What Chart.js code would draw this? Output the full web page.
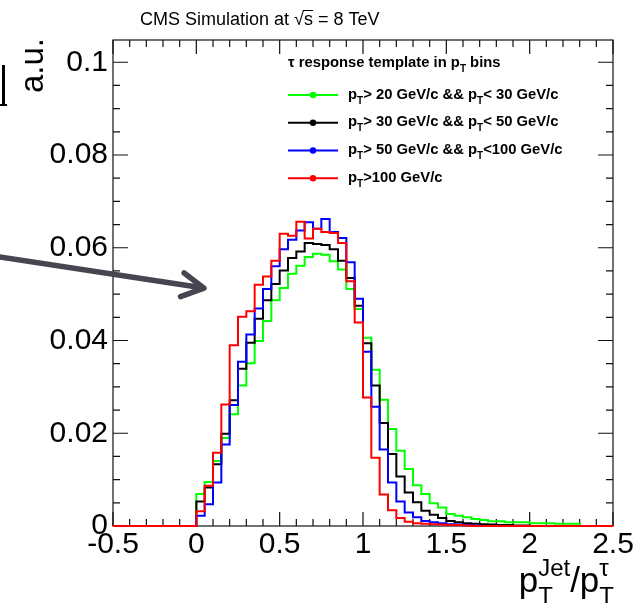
<!DOCTYPE html>
<html>
<head>
<meta charset="utf-8">
<script src="https://cdn.jsdelivr.net/npm/chart.js@4.4.1/dist/chart.umd.min.js"></script>
<style>
html, body { margin: 0; padding: 0; background: #fff; }
canvas { display: block; }
</style>
</head>
<body>
<canvas id="tauResponse" width="637" height="603"></canvas>
<script>
// histogram binning: 60 bins of 0.05 from -0.5 to 2.5
const histMin = -0.5;
const binWidth = 0.05;

const seriesLabels = [
	"p_{T}> 20 GeV/c && p_{T}< 30 GeV/c",
	"p_{T}> 30 GeV/c && p_{T}< 50 GeV/c",
	"p_{T}> 50 GeV/c && p_{T}<100 GeV/c",
	"p_{T}>100 GeV/c"
];
const seriesColors = ["#00ff00", "#000000", "#0000ff", "#ff0000"];

const pt20to30 = [
	0, 0, 0, 0, 0, 0, 0, 0, 0, 0,
	0.0069, 0.0095, 0.0140, 0.0190, 0.0241, 0.0303, 0.0351, 0.0399, 0.0442, 0.0487,
	0.0513, 0.0544, 0.0561, 0.0580, 0.0587, 0.0585, 0.0571, 0.0553, 0.0511, 0.0468,
	0.0406, 0.0337, 0.0272, 0.0209, 0.0162, 0.0123, 0.0088, 0.0069, 0.0049, 0.0040,
	0.0026, 0.0022, 0.0019, 0.0015, 0.0013, 0.0010, 0.0010, 0.0008, 0.0008, 0.0008,
	0.0006, 0.0006, 0.0006, 0.0005, 0.0005, 0.0005, 0, 0, 0, 0
];
const pt30to50 = [
	0, 0, 0, 0, 0, 0, 0, 0, 0, 0,
	0.0053, 0.0083, 0.0133, 0.0199, 0.0271, 0.0339, 0.0395, 0.0447, 0.0487, 0.0522,
	0.0551, 0.0578, 0.0592, 0.0610, 0.0608, 0.0606, 0.0597, 0.0572, 0.0535, 0.0475,
	0.0394, 0.0303, 0.0222, 0.0155, 0.0107, 0.0072, 0.0051, 0.0033, 0.0024, 0.0017,
	0.0011, 0.0008, 0.0006, 0.0005, 0.0004, 0.0003, 0.0002, 0.0002, 0.0001, 0.0001,
	0, 0, 0, 0, 0, 0, 0, 0, 0, 0
];
const pt50to100 = [
	0, 0, 0, 0, 0, 0, 0, 0, 0, 0,
	0.0022, 0.0047, 0.0094, 0.0176, 0.0261, 0.0354, 0.0413, 0.0469, 0.0511, 0.0560,
	0.0597, 0.0617, 0.0637, 0.0655, 0.0641, 0.0662, 0.0634, 0.0621, 0.0569, 0.0490,
	0.0376, 0.0257, 0.0165, 0.0094, 0.0053, 0.0029, 0.0019, 0.0011, 0.0008, 0.0006,
	0.0004, 0.0003, 0.0002, 0.0001, 0, 0, 0, 0, 0, 0,
	0, 0, 0, 0, 0, 0, 0, 0, 0, 0
];
const ptAbove100 = [
	0, 0, 0, 0, 0, 0, 0, 0, 0, 0,
	0.0032, 0.0087, 0.0158, 0.0262, 0.0390, 0.0451, 0.0463, 0.0520, 0.0538, 0.0572,
	0.0630, 0.0626, 0.0656, 0.0620, 0.0641, 0.0634, 0.0632, 0.0610, 0.0528, 0.0439,
	0.0277, 0.0147, 0.0068, 0.0034, 0.0017, 0.0009, 0.0006, 0.0005, 0.0004, 0.0003,
	0.0002, 0.0002, 0.0001, 0, 0, 0, 0, 0, 0, 0,
	0, 0, 0, 0, 0, 0, 0, 0, 0, 0
];

const xTickValues = [-0.5, 0, 0.5, 1, 1.5, 2, 2.5];
const xTickLabels = ["-0.5", "0", "0.5", "1", "1.5", "2", "2.5"];
const yTickValues = [0, 0.02, 0.04, 0.06, 0.08, 0.1];
const yTickLabels = ["0", "0.02", "0.04", "0.06", "0.08", "0.1"];

const FONT = '"Liberation Sans", Arial, Helvetica, sans-serif';

// turn bin contents into step points (lower edges + closing point)
function histPoints(values) {
	const pts = values.map((v, i) => ({ x: histMin + i * binWidth, y: v }));
	pts.push({ x: histMin + values.length * binWidth, y: values[values.length - 1] });
	return pts;
}

const allSeries = [pt20to30, pt30to50, pt50to100, ptAbove100];
const datasets = allSeries.map((vals, i) => ({
	label: seriesLabels[i],
	data: histPoints(vals),
	borderColor: seriesColors[i],
	backgroundColor: seriesColors[i],
	borderWidth: 2,
	pointRadius: 0,
	stepped: 'before',
	fill: false,
	clip: 3,
	order: allSeries.length - 1 - i
}));

// simple _{..} / ^{..} text drawing, like ROOT latex
function parseRich(s) {
	const out = [];
	const re = /_\{([^}]*)\}|\^\{([^}]*)\}|([^_^]+)/g;
	let m;
	while ((m = re.exec(s))) {
		if (m[3] !== undefined) { out.push({ t: m[3] }); continue; }
		const key = m[1] !== undefined ? 'sub' : 'sup';
		const val = m[1] !== undefined ? m[1] : m[2];
		const last = out[out.length - 1];
		if (last && last.t === undefined && last[key] === undefined) last[key] = val;
		else out.push({ [key]: val });
	}
	return out;
}

function drawRich(ctx, s, x, y, size, weight, align, subScale) {
	const parts = parseRich(s);
	const big = weight + ' ' + size + 'px ' + FONT;
	const small = weight + ' ' + Math.round(size * (subScale || 0.7)) + 'px ' + FONT;
	const widths = parts.map(p => {
		if (p.t !== undefined) { ctx.font = big; return ctx.measureText(p.t).width; }
		ctx.font = small;
		return Math.max(p.sub ? ctx.measureText(p.sub).width : 0, p.sup ? ctx.measureText(p.sup).width : 0);
	});
	const total = widths.reduce((a, b) => a + b, 0);
	let cx = align === 'right' ? x - total : x;
	ctx.textAlign = 'left';
	ctx.textBaseline = 'alphabetic';
	parts.forEach((p, i) => {
		if (p.t !== undefined) {
			ctx.font = big;
			ctx.fillText(p.t, cx, y);
		} else {
			ctx.font = small;
			if (p.sub) ctx.fillText(p.sub, cx, y + size * 0.34);
			if (p.sup) ctx.fillText(p.sup, cx, y - size * 0.46);
		}
		cx += widths[i];
	});
}

const rootStyle = {
	id: 'rootStyle',
	beforeDraw(chart) {
		const ctx = chart.ctx;
		ctx.save();
		ctx.fillStyle = '#fff';
		ctx.fillRect(0, 0, chart.width, chart.height);
		ctx.restore();
	},
	// frame + inward ticks on all four sides, under the histograms
	beforeDatasetsDraw(chart) {
		const { ctx, chartArea: a } = chart;
		const x = chart.scales.x, y = chart.scales.y;
		ctx.save();
		ctx.strokeStyle = '#111';
		ctx.lineWidth = 1.2;
		ctx.strokeRect(a.left, a.top, a.right - a.left, a.bottom - a.top);
		ctx.beginPath();
		for (let i = 0; i <= 30; i++) {
			const px = x.getPixelForValue(-0.5 + i * 0.1);
			const len = i % 5 === 0 ? 14 : 7;
			ctx.moveTo(px, a.bottom); ctx.lineTo(px, a.bottom - len);
			ctx.moveTo(px, a.top); ctx.lineTo(px, a.top + len);
		}
		for (let i = 0; i * 0.005 <= y.max; i++) {
			const py = y.getPixelForValue(i * 0.005);
			const len = i % 4 === 0 ? 15 : 7;
			ctx.moveTo(a.left, py); ctx.lineTo(a.left + len, py);
			ctx.moveTo(a.right, py); ctx.lineTo(a.right - len, py);
		}
		ctx.stroke();
		ctx.restore();
	},
	afterDraw(chart) {
		const { ctx } = chart;
		const x = chart.scales.x, y = chart.scales.y;
		ctx.save();

		// title
		ctx.fillStyle = '#000';
		ctx.font = '18px ' + FONT;
		ctx.textAlign = 'left';
		ctx.textBaseline = 'alphabetic';
		const head = 'CMS Simulation at \u221A';
		ctx.fillText(head + 's = 8 TeV', 140, 25);
		const w0 = ctx.measureText(head).width;
		const w1 = ctx.measureText('s').width;
		ctx.fillRect(140 + w0 - 1, 10, w1 + 1, 1);

		// y title
		ctx.save();
		ctx.translate(43, 38);
		ctx.rotate(-Math.PI / 2);
		ctx.font = '33px ' + FONT;
		ctx.textAlign = 'right';
		ctx.fillText('a.u.', 0, 0);
		ctx.restore();

		// x title
		drawRich(ctx, 'p_{T}^{Jet}/p_{T}^{\u03C4}', 614, 592, 35, 'normal', 'right', 0.68);

		// legend
		drawRich(ctx, '\u03C4 response template in p_{T} bins', 288, 67, 14.8, 'bold', 'left', 0.7);
		chart.data.datasets.forEach((ds, i) => {
			const ry = 95 + i * 27.75;
			ctx.strokeStyle = ds.borderColor;
			ctx.fillStyle = ds.borderColor;
			ctx.lineWidth = 2;
			ctx.beginPath();
			ctx.moveTo(288, ry); ctx.lineTo(338, ry);
			ctx.stroke();
			ctx.beginPath();
			ctx.arc(313, ry, 3.2, 0, Math.PI * 2);
			ctx.fill();
			ctx.fillStyle = '#000';
			drawRich(ctx, ds.label, 348, ry + 3.5, 14.8, 'bold', 'left', 0.7);
		});

		// annotation arrow laid over the plot
		const sx = x.getPixelForValue(-1.18), sy = y.getPixelForValue(0.058);
		const tx = x.getPixelForValue(0.046), ty = y.getPixelForValue(0.0513);
		const ang = Math.atan2(ty - sy, tx - sx);
		ctx.strokeStyle = '#464651';
		ctx.lineWidth = 5.5;
		ctx.lineCap = 'round';
		ctx.lineJoin = 'round';
		ctx.beginPath();
		ctx.moveTo(sx, sy); ctx.lineTo(tx - 2, ty - 0.3);
		ctx.moveTo(tx - 25 * Math.cos(ang - 0.5), ty - 25 * Math.sin(ang - 0.5));
		ctx.lineTo(tx, ty);
		ctx.lineTo(tx - 25 * Math.cos(ang + 0.5), ty - 25 * Math.sin(ang + 0.5));
		ctx.stroke();

		// clipped piece of slide text at the left edge
		ctx.fillStyle = '#000';
		ctx.fillRect(2, 65, 3, 39);
		ctx.fillRect(0, 104, 7, 2);

		ctx.restore();
	}
};

new Chart(document.getElementById('tauResponse'), {
	type: 'line',
	data: { datasets: datasets },
	options: {
		responsive: false,
		animation: false,
		layout: { padding: { left: 33, right: 24, top: 40, bottom: 32 } },
		plugins: { legend: { display: false }, tooltip: { enabled: false }, title: { display: false } },
		scales: {
			x: {
				type: 'linear',
				min: -0.5,
				max: 2.5,
				grid: { display: false, drawTicks: false },
				border: { display: false },
				afterBuildTicks: s => { s.ticks = xTickValues.map(v => ({ value: v })); },
				afterFit: s => { s.height = 45; },
				ticks: {
					color: '#000',
					font: { family: FONT, size: 30 },
					padding: 1,
					maxRotation: 0,
					autoSkip: false,
					callback: (v, i) => xTickLabels[i]
				}
			},
			y: {
				type: 'linear',
				min: 0,
				max: 0.1048,
				grid: { display: false, drawTicks: false },
				border: { display: false },
				afterBuildTicks: s => { s.ticks = yTickValues.map(v => ({ value: v })); },
				afterFit: s => { s.width = 80; },
				ticks: {
					color: '#000',
					font: { family: FONT, size: 30 },
					padding: 5,
					autoSkip: false,
					callback: (v, i) => yTickLabels[i]
				}
			}
		}
	},
	plugins: [rootStyle]
});
</script>
</body>
</html>
